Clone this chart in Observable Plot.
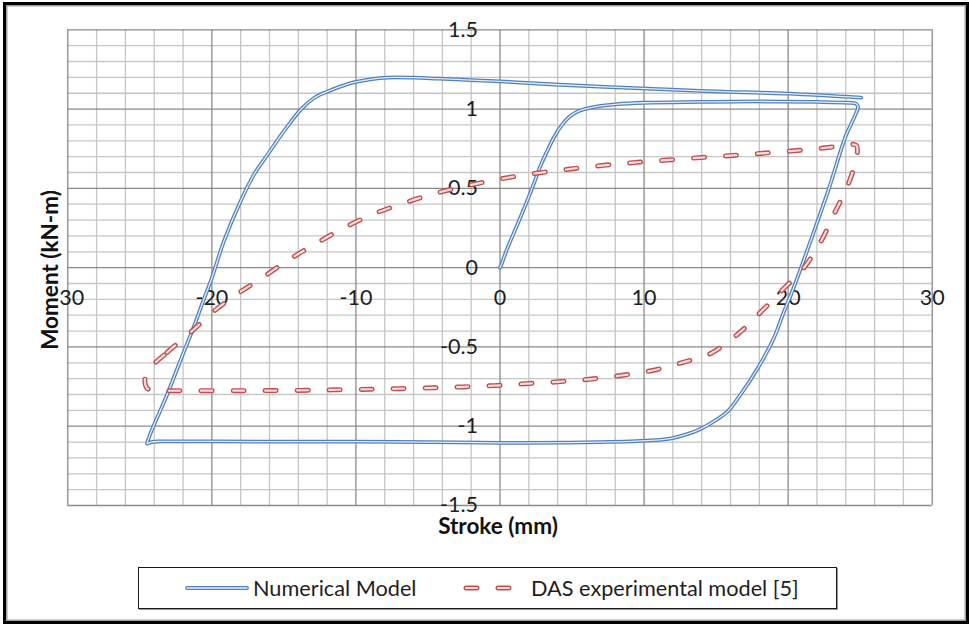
<!DOCTYPE html>
<html>
<head>
<meta charset="utf-8">
<script src="https://cdn.jsdelivr.net/npm/d3@7"></script>
<script src="https://cdn.jsdelivr.net/npm/@observablehq/plot@0.6"></script>
<style>
  html, body { margin: 0; padding: 0; background: #fff; }
  #wrap { position: relative; width: 969px; height: 625px; overflow: hidden; font-family: Lato, "Open Sans", sans-serif; color: #1e1e1e; }
  #chart { position: absolute; left: 0; top: 0; }
  #frame { position: absolute; left: 3px; top: 2px; width: 960px; height: 616px; border: 3px solid #000; box-shadow: inset 0 0 0 1.5px #a0a0a0; pointer-events: none; }
  .title { position: absolute; font-weight: bold; font-size: 22.5px; white-space: nowrap; color: #111; }
  #xtitle { left: 498px; top: 525px; transform: translate(-50%, -50%); }
  #ytitle { left: 50px; top: 270px; transform: translate(-50%, -50%) rotate(-90deg); background: #fff; line-height: 18px; padding: 0 2px; }
  #legend { position: absolute; left: 138px; top: 567px; width: 697px; height: 40px; border: 1px solid #1a1a1a; box-shadow: 1px 1px 0 #999; background: #fff; }
  .lgtext { position: absolute; top: 20px; transform: translateY(-50%); font-size: 21.7px; white-space: nowrap; color: #1e1e1e; }
  .lgsym { position: absolute; top: 10px; }
</style>
</head>
<body>
<div id="wrap">
  <div id="chart"></div>
  <div id="xtitle" class="title"></div>
  <div id="ytitle" class="title"></div>
  <div id="legend"></div>
  <div id="frame"></div>
</div>
<script>
// ---- Axis ticks and labels ----
const strokeTicks = [-30, -20, -10, 0, 10, 20, 30];
const strokeLabels = ["-30", "-20", "-10", "0", "10", "20", "30"];
const strokeMinor = [-28, -26, -24, -22, -18, -16, -14, -12, -8, -6, -4, -2, 2, 4, 6, 8, 12, 14, 16, 18, 22, 24, 26, 28];
const momentTicks = [-1.5, -1, -0.5, 0, 0.5, 1, 1.5];
const momentLabels = ["-1.5", "-1", "-0.5", "0", "0.5", "1", "1.5"];
const momentMinor = [-1.4, -1.3, -1.2, -1.1, -0.9, -0.8, -0.7, -0.6, -0.4, -0.3, -0.2, -0.1, 0.1, 0.2, 0.3, 0.4, 0.6, 0.7, 0.8, 0.9, 1.1, 1.2, 1.3, 1.4];
const xTitle = "Stroke (mm)";
const yTitle = "Moment (kN-m)";
const seriesNames = ["Numerical Model", "DAS experimental model [5]"];

// ---- Numerical Model ----
const numStroke = [0, 0.1, 0.5, 1.2, 2.1, 2.85, 3.3, 3.8, 4.3, 4.8, 5.4, 6.1, 7.0, 8.0, 10.0, 14.0, 18.0, 22.0, 24.2, 24.7, 24.85, 24.6, 24.0, 22.8, 21.8, 20.9, 20.2, 19.7, 19.03, 17.9, 16.7, 15.8, 15.0, 14.0, 13.0, 11.9, 9.8, 5.0, 0.0, -5.0, -10.0, -15.0, -20.0, -23.5, -24.2, -24.5, -24.4, -24.1, -23.1, -22.2, -21.2, -20.6, -20.0, -19.15, -18.0, -17.06, -16.1, -14.96, -13.8, -12.9, -12.0, -11.0, -10.1, -9.0, -7.8, -6.0, -4.3, -2.0, 0.0, 3.8, 9.8, 15.0, 20.0, 25.07];
const numMoment = [0, 0.02, 0.12, 0.27, 0.47, 0.65, 0.74, 0.83, 0.9, 0.95, 0.985, 1.005, 1.02, 1.03, 1.04, 1.045, 1.048, 1.045, 1.04, 1.035, 1.015, 0.95, 0.83, 0.49, 0.23, 0.0, -0.17, -0.28, -0.44, -0.633, -0.8, -0.907, -0.96, -1.014, -1.05, -1.076, -1.093, -1.103, -1.105, -1.1, -1.097, -1.097, -1.096, -1.096, -1.1, -1.11, -1.08, -1.01, -0.8, -0.59, -0.36, -0.21, -0.065, 0.17, 0.42, 0.59, 0.717, 0.865, 1.0, 1.07, 1.11, 1.145, 1.17, 1.188, 1.199, 1.198, 1.192, 1.183, 1.175, 1.155, 1.13, 1.112, 1.097, 1.072];

// ---- DAS experimental model [5] ----
const dasStroke = [-23.3, -24.0, -24.5, -24.65, -24.5, -24.1, -23.5, -22.0, -18.0, -14.0, -11.3, -9.0, -6.9, -4.7, -2.6, -0.4, 1.8, 4.0, 6.2, 8.4, 10.5, 12.6, 14.65, 16.5, 18.1, 19.5, 21.1, 22.3, 23.2, 24.1, 24.6, 24.8, 24.75, 24.4, 23.45, 21.4, 19.0, 16.9, 14.8, 12.6, 10.3, 8.2, 5.9, 3.8, 1.7, -0.5, -2.7, -4.8, -6.9, -9.0, -10.95, -12.9, -14.6, -16.5, -18.3, -20.0, -21.5, -22.8, -23.3];
const dasMoment = [-0.55, -0.605, -0.655, -0.715, -0.76, -0.774, -0.776, -0.776, -0.776, -0.774, -0.77, -0.767, -0.763, -0.758, -0.752, -0.744, -0.732, -0.72, -0.704, -0.68, -0.65, -0.6, -0.54, -0.42, -0.28, -0.15, 0.0, 0.17, 0.34, 0.51, 0.64, 0.72, 0.77, 0.778, 0.765, 0.745, 0.727, 0.712, 0.70, 0.685, 0.67, 0.654, 0.633, 0.61, 0.585, 0.55, 0.508, 0.46, 0.40, 0.33, 0.245, 0.145, 0.053, -0.063, -0.17, -0.285, -0.41, -0.51, -0.55];

const numData = numStroke.map((x, i) => ({x, y: numMoment[i]}));
const dasData = dasStroke.map((x, i) => ({x, y: dasMoment[i]}));

const blue = "#4f81bd", blueIn = "#e6edf7";
const red = "#c0504d", redIn = "#f6dcdb";
const dash = "11,21";

const plot = Plot.plot({
  width: 969,
  height: 625,
  marginLeft: 67.3,
  marginRight: 37.3,
  marginTop: 29.3,
  marginBottom: 120,
  x: {domain: [-30, 30], axis: null},
  y: {domain: [-1.5, 1.5], axis: null},
  style: {background: "transparent", fontFamily: "Lato, 'Open Sans', sans-serif", fontSize: "21.5px", color: "#1e1e1e", overflow: "visible"},
  marks: [
    Plot.ruleX(strokeMinor, {x: d => d, stroke: "#c6c6c6", strokeWidth: 1.3}),
    Plot.ruleY(momentMinor, {y: d => d, stroke: "#c6c6c6", strokeWidth: 1.3}),
    Plot.ruleX(strokeTicks, {x: d => d, stroke: "#8a8a8a", strokeWidth: 1.3}),
    Plot.ruleY(momentTicks, {y: d => d, stroke: "#8a8a8a", strokeWidth: 1.3}),
    Plot.text(strokeTicks, {x: d => d, y: () => 0, text: (d, i) => strokeLabels[i], dy: 30, fontSize: 21.5, fill: "#1e1e1e"}),
    Plot.text(momentTicks, {x: () => 0, y: d => d, text: (d, i) => momentLabels[i], dx: -22, textAnchor: "end", fontSize: 21.5, fill: "#1e1e1e"}),
    Plot.line(numData, {x: "x", y: "y", stroke: blue, strokeWidth: 3.8, curve: "catmull-rom", strokeLinejoin: "round", strokeLinecap: "round"}),
    Plot.line(numData, {x: "x", y: "y", stroke: blueIn, strokeWidth: 1.3, curve: "catmull-rom", strokeLinejoin: "round", strokeLinecap: "round"}),
    Plot.line(dasData, {x: "x", y: "y", stroke: red, strokeWidth: 5, strokeDasharray: dash, strokeLinecap: "round", curve: "catmull-rom"}),
    Plot.line(dasData, {x: "x", y: "y", stroke: redIn, strokeWidth: 2.2, strokeDasharray: dash, strokeLinecap: "round", curve: "catmull-rom"})
  ]
});
document.getElementById("chart").appendChild(plot);
document.getElementById("xtitle").textContent = xTitle;
document.getElementById("ytitle").textContent = yTitle;

// Legend
const lg = document.getElementById("legend");
lg.innerHTML = `
  <svg class="lgsym" style="left:46px" width="64" height="20">
    <line x1="2" y1="10" x2="62" y2="10" stroke="${blue}" stroke-width="3.8" stroke-linecap="round"/>
    <line x1="2" y1="10" x2="62" y2="10" stroke="${blueIn}" stroke-width="1.3" stroke-linecap="round"/>
  </svg>
  <div class="lgtext" style="left:114px">${seriesNames[0]}</div>
  <svg class="lgsym" style="left:322px" width="56" height="20">
    <line x1="5" y1="10" x2="60" y2="10" stroke="${red}" stroke-width="5" stroke-linecap="round" stroke-dasharray="${dash}"/>
    <line x1="5" y1="10" x2="60" y2="10" stroke="${redIn}" stroke-width="2.2" stroke-linecap="round" stroke-dasharray="${dash}"/>
  </svg>
  <div class="lgtext" style="left:392px">${seriesNames[1]}</div>`;
</script>
</body>
</html>
